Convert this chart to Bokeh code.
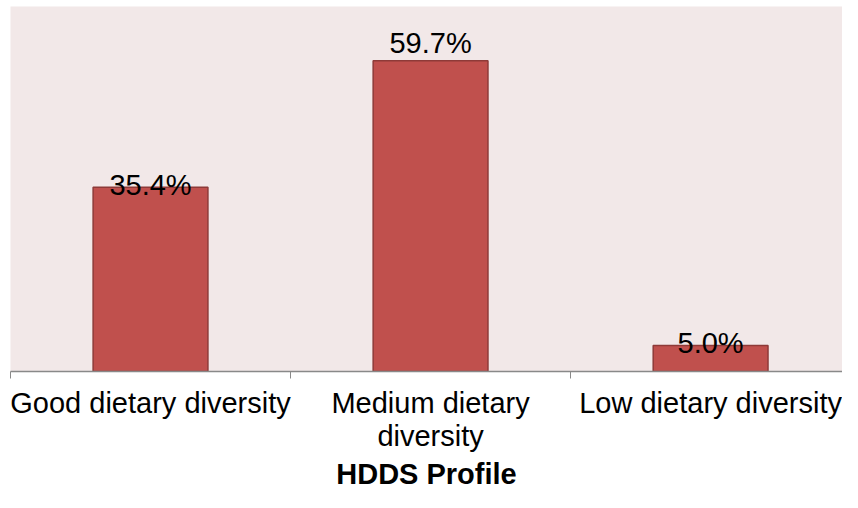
from bokeh.plotting import figure
from bokeh.models import ColumnDataSource, FixedTicker, Range1d, LinearAxis
from bokeh.core.properties import value
from bokeh.embed import file_html
from bokeh.resources import INLINE

# ---- data ----
categories = ["Good dietary diversity", "Medium dietary\ndiversity", "Low dietary diversity"]
shares = [35.4, 59.7, 5.0]
share_labels = ["35.4%", "59.7%", "5.0%"]
axis_title = "HDDS Profile"

# ---- layout / style (not data) ----
n = len(categories)
centers = [i + 0.5 for i in range(n)]
boundaries = [i for i in range(n + 1)]
first_lines = [c.split("\n")[0] for c in categories]
second_lines = [c.split("\n")[1] if "\n" in c else "" for c in categories]
label_lift = [2, 18, 2]
FONT = "Liberation Sans"
AXIS_GREY = "#898989"

src = ColumnDataSource(dict(x=centers, top=shares, lab=share_labels,
                            yoff=[-v for v in label_lift]))

p = figure(width=842, height=492,
           x_range=Range1d(0, 2.971), y_range=Range1d(0, 70.1),
           output_backend="svg", toolbar_location=None,
           min_border_left=10, min_border_right=0, min_border_top=6, min_border_bottom=0,
           x_axis_type=None, y_axis_type=None)

p.background_fill_color = "#F2E8E8"
p.border_fill_color = "white"
p.outline_line_color = None
p.xgrid.visible = False
p.ygrid.visible = False

p.vbar(x="x", top="top", width=0.41, bottom=0, source=src,
       fill_color="#C0504D", line_color="#8E3A38", line_width=1.5)

p.text(x="x", y="top", text="lab", source=src, y_offset="yoff",
       text_align="center", text_baseline="alphabetic",
       text_font=value(FONT), text_font_size="29px", text_color="black")

# axis with category boundary ticks and first label lines
ax = LinearAxis(ticker=FixedTicker(ticks=centers, minor_ticks=boundaries))
ax.major_label_overrides = {c: lab for c, lab in zip(centers, first_lines)}
ax.major_tick_line_color = None
ax.major_tick_in = 0
ax.major_tick_out = 7
ax.minor_tick_line_color = AXIS_GREY
ax.minor_tick_in = 0
ax.minor_tick_out = 7
ax.axis_line_color = AXIS_GREY
ax.axis_line_width = 1.5
ax.major_label_text_font = FONT
ax.major_label_text_font_size = "29px"
ax.major_label_text_color = "black"
ax.major_label_standoff = 8
p.add_layout(ax, "below")

# second label lines and the axis title
ax2 = LinearAxis(ticker=FixedTicker(ticks=centers, minor_ticks=[]))
ax2.major_label_overrides = {c: lab for c, lab in zip(centers, second_lines)}
ax2.axis_line_color = None
ax2.major_tick_line_color = None
ax2.major_tick_in = 0
ax2.major_tick_out = 0
ax2.minor_tick_line_color = None
ax2.major_label_text_font = FONT
ax2.major_label_text_font_size = "29px"
ax2.major_label_text_color = "black"
ax2.major_label_standoff = -2
ax2.axis_label = axis_title
ax2.axis_label_text_font = FONT
ax2.axis_label_text_font_size = "29px"
ax2.axis_label_text_font_style = "bold"
ax2.axis_label_text_color = "black"
ax2.axis_label_standoff = 3
p.add_layout(ax2, "below")

open("out.html", "w").write(file_html(p, INLINE))
